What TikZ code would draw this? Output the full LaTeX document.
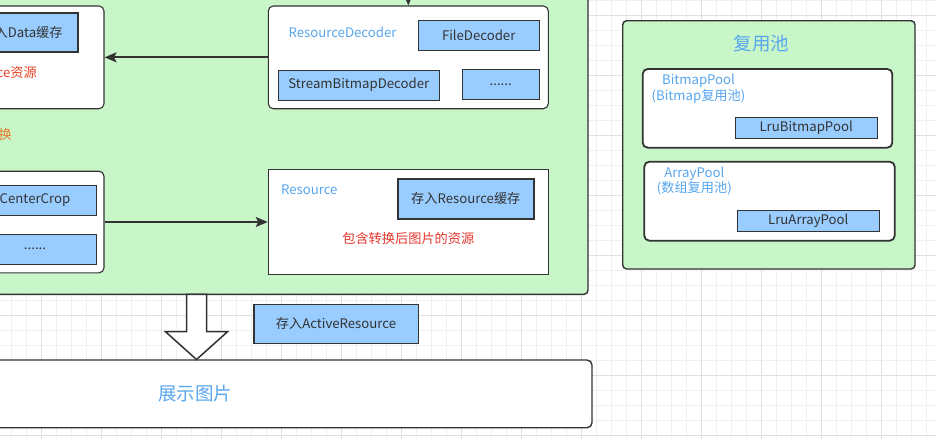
\documentclass[tikz,border=0pt]{standalone}
\usepackage{fontspec}
\setmainfont{Noto Sans CJK SC}
\usepackage{xcolor}
\usetikzlibrary{arrows.meta,positioning}

\definecolor{panelgreen}{RGB}{200,246,200}
\definecolor{cellblue}{RGB}{153,204,255}
\definecolor{edgegray}{RGB}{51,51,51}
\definecolor{titleblue}{RGB}{88,166,238}
\definecolor{notered}{RGB}{230,55,46}
\definecolor{noteorange}{RGB}{232,121,46}
\definecolor{gridminor}{RGB}{240,240,240}
\definecolor{gridmajor}{RGB}{224,224,224}

\newcommand{\fsbody}{\fontsize{13.2}{15.5}\selectfont}
\newcommand{\fslarge}{\fontsize{18.5}{21}\selectfont}

\begin{document}
\begin{tikzpicture}[
    x=1pt, y=-1pt,
    panel/.style={rectangle, draw=edgegray, line width=1.4pt, fill=panelgreen,
                  rounded corners=4pt, inner sep=0pt},
    card/.style={rectangle, draw=edgegray, line width=1.1pt, fill=white,
                 rounded corners=5pt, inner sep=0pt},
    flatcard/.style={card, rounded corners=0pt},
    poolcard/.style={card, line width=1.8pt},
    cell/.style={rectangle, draw=edgegray, line width=1pt, fill=cellblue,
                 inner sep=0pt, font=\fsbody, text=edgegray},
    boldcell/.style={cell, line width=2pt},
    title/.style={inner sep=0pt, font=\fsbody, text=titleblue, align=center},
    note/.style={inner sep=0pt, font=\fsbody, text=notered},
    arr/.style={-{Stealth[length=12pt, width=10pt, inset=2.5pt]}, draw=edgegray,
                fill=edgegray, line width=1.8pt},
    blockarr/.style={draw=edgegray, line width=1.5pt, fill=white, line join=miter},
    gridthin/.style={draw=gridminor, line width=0.8pt},
    gridthick/.style={draw=gridmajor, line width=0.9pt}
]
\useasboundingbox (0,0) rectangle (936,439);
\fill[white] (0,0) rectangle (936,439);

%% canvas grid
\foreach \gx in {0,...,61} \draw[gridthin] ({11.7+15*\gx},0) -- ++(0,439);
\foreach \gy in {0,...,29} \draw[gridthin] (0,{15*\gy}) -- ++(936,0);
\foreach \gx in {0,...,15} \draw[gridthick] ({41.7+60*\gx},0) -- ++(0,439);
\foreach \gy in {0,...,7}  \draw[gridthick] (0,{15+60*\gy}) -- ++(936,0);

%% main green panel
\node[panel, minimum width=608pt, minimum height=314.3pt] (mainPanel) at (284,137.15) {};

%% top-left card (data cache)
\node[card, minimum width=124pt, minimum height=102.7pt] (dataCard) at (42,57.35) {};
\node[boldcell, minimum width=112pt, minimum height=39pt] (dataCache) at (22,32.5) {存入Data缓存};
\node[note, text=notered!85!orange, anchor=east] (dataNote) at (37,73) {ce资源};
\node[note, text=noteorange, anchor=east] (transNote) at (12,134) {换};

%% decoder card
\node[card, minimum width=280pt, minimum height=102.7pt] (decoderCard) at (408.3,57.35) {};
\node[title] (decoderTitle) at (342.5,32) {ResourceDecoder};
\node[cell, minimum width=120.7pt, minimum height=29.6pt] (fileDec) at (478.7,35.5) {FileDecoder};
\node[cell, minimum width=161pt, minimum height=29.7pt] (streamDec) at (358.8,85.2) {StreamBitmapDecoder};
\node[cell, minimum width=76.7pt, minimum height=30pt] (moreDec) at (500.7,84.3) {......};

%% transform card
\node[card, minimum width=124pt, minimum height=101.6pt] (transCard) at (42,222) {};
\node[cell, minimum width=122pt, minimum height=30pt] (centerCrop) at (35,200.3) {CenterCrop};
\node[cell, minimum width=122pt, minimum height=30.3pt] (moreTrans) at (35,249.2) {......};

%% resource card
\node[flatcard, minimum width=280pt, minimum height=105pt] (resCard) at (408.3,222) {};
\node[title] (resTitle) at (309.3,189.3) {Resource};
\node[boldcell, minimum width=136.3pt, minimum height=40pt] (resCache) at (465.8,198.7) {存入Resource缓存};
\node[note] (resNote) at (408.3,238.3) {包含转换后图片的资源};

%% pool panel
\node[panel, minimum width=292.3pt, minimum height=248.3pt] (poolPanel) at (768.85,144.85) {};
\node[title, font=\fslarge] (poolTitle) at (761.7,43.3) {复用池};
\node[poolcard, minimum width=249.6pt, minimum height=78.7pt] (bitmapCard) at (767.5,108.35) {};
\node[title] (bitmapTitle) at (698.5,89) {BitmapPool\\(Bitmap复用池)};
\node[cell, minimum width=142.3pt, minimum height=21pt] (lruBitmap) at (806.15,127.8) {LruBitmapPool};
\node[poolcard, minimum width=250.4pt, minimum height=79pt] (arrayCard) at (769.5,201.2) {};
\node[title] (arrayTitle) at (694.3,180.85) {ArrayPool\\(数组复用池)};
\node[cell, minimum width=142pt, minimum height=21pt] (lruArray) at (808.3,220.5) {LruArrayPool};

%% bottom
\node[cell, line width=1.6pt, minimum width=164.6pt, minimum height=39pt] (activeRes) at (336,323.8) {存入ActiveResource};
\node[card, line width=1.4pt, minimum width=794pt, minimum height=67.7pt, font=\fslarge,
      text=titleblue] (showCard) at (195,393.85) {展示图片};

%% connectors
\coordinate (fromAbove) at (408.3,-20);
\draw[arr] (fromAbove) -- (decoderCard.north);
\draw[arr] (decoderCard.west) -- (dataCard.east);
\draw[arr] (transCard.east) -- (resCard.west);

%% block arrow down to display
\coordinate (dropTop) at (196.5,294.3);
\draw[blockarr] ([xshift=-10pt]dropTop) -- ++(0,37.4) -- ++(-21,0) -- ++(31,27.8)
    -- ++(31,-27.8) -- ++(-21,0) -- ++(0,-37.4) -- cycle;

\end{tikzpicture}
\end{document}
